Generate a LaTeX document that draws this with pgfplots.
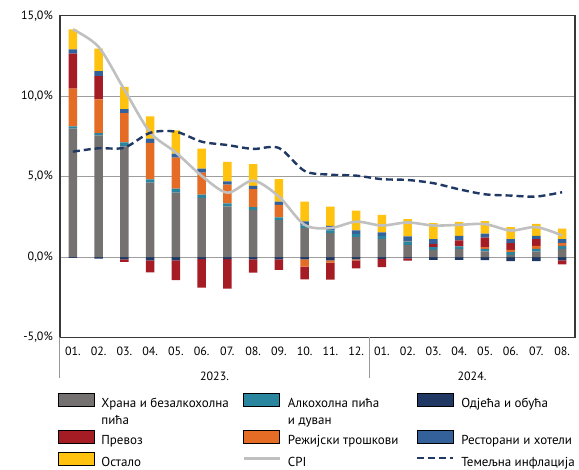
\documentclass[border=0pt]{standalone}
\usepackage{fontspec}
\setmainfont{PT Sans}
\usepackage{pgfplots}
\usepackage{pgfplotstable}
\pgfplotsset{compat=1.18}

\definecolor{food}{HTML}{767171}
\definecolor{alc}{HTML}{2A869E}
\definecolor{clo}{HTML}{1F3864}
\definecolor{trans}{HTML}{A51C24}
\definecolor{util}{HTML}{E46C24}
\definecolor{rest}{HTML}{35619A}
\definecolor{other}{HTML}{FFC20E}
\definecolor{cpi}{HTML}{C0C0C0}
\definecolor{core}{HTML}{1F3864}

% contributions to inflation (p.p.), CPI and core inflation (%)
\pgfplotstableread{
x  food alc  clo   util  trans rest other cpi   core
1  7.98 0.14 -0.05 2.35  2.17  0.26 1.25  14.15 6.55
2  7.56 0.14 -0.10 2.10  1.45  0.31 1.39  13.06 6.76
3  6.88 0.25 -0.15 1.82  -0.15 0.25 1.37  10.40 6.80
4  4.63 0.20 -0.20 2.26  -0.76 0.27 1.39  7.75  7.72
5  4.00 0.25 -0.20 1.93  -1.24 0.25 1.45  6.50  7.79
6  3.67 0.21 -0.13 1.37  -1.77 0.25 1.24  5.05  7.17
7  3.15 0.18 -0.13 1.17  -1.83 0.21 1.21  4.00  6.96
8  2.93 0.17 -0.15 1.12  -0.82 0.20 1.35  4.75  6.72
9  2.29 0.17 -0.15 0.78  -0.64 0.21 1.40  3.76  6.78
10 1.80 0.16 -0.15 -0.45 -0.79 0.25 1.24  2.00  5.35
11 1.49 0.16 -0.20 -0.15 -1.06 0.29 1.20  1.80  5.12
12 1.24 0.20 -0.15 -0.05 -0.50 0.21 1.24  2.20  5.06
13 1.12 0.20 -0.12 0     -0.50 0.21 1.09  1.96  4.84
14 0.76 0.21 -0.08 0.03  -0.15 0.28 1.08  2.15  4.79
15 0.45 0.17 -0.17 0     0.20  0.30 0.99  1.96  4.59
16 0.50 0.16 -0.17 0     0.37  0.29 0.87  2.00  4.21
17 0.35 0.15 -0.19 0.12  0.58  0.25 0.78  2.05  3.90
18 0.14 0.17 -0.25 0.14  0.42  0.25 0.74  1.65  3.82
19 0.33 0.17 -0.25 0.20  0.42  0.20 0.74  1.86  3.76
20 0.50 0.20 -0.20 0.17  -0.26 0.25 0.65  1.34  4.03
}\data

\pgfplotsset{
  barleg/.style={legend image code/.code={\fill[##1] (0pt,-2.5pt) rectangle (36pt,10.2pt);}},
  % first legend row holds two-line texts: reserve their depth
  barlegtall/.style={legend image code/.code={\fill[##1] (0pt,-2.5pt) rectangle (36pt,10.2pt); \path (0pt,-20pt);}},
  lineleg/.style={legend image code/.code={\draw[##1] (0pt,4pt) -- (36pt,4pt);}},
  frame/.style={
    at={(60pt,132.5pt)}, anchor=south west,
    width=515pt, height=321.8pt, scale only axis,
    xmin=0.5, xmax=20.5, ymin=-5, ymax=15,
  },
}

\begin{document}
\begin{tikzpicture}
\useasboundingbox (0,0) rectangle (579pt,470pt);
\begin{axis}[
    frame,
    ybar stacked, stack negative=separate, bar width=8.5pt,
    xtick={1,...,20},
    xticklabels={01.,02.,03.,04.,05.,06.,07.,08.,09.,10.,11.,12.,01.,02.,03.,04.,05.,06.,07.,08.},
    ytick={-5,0,5,10,15},
    yticklabel={\pgfmathprintnumber{\tick}\%},
    /pgf/number format/.cd, fixed, fixed zerofill, precision=1, use comma, assume math mode=true,
    /pgfplots/.cd,
    major tick length=0pt,
    ymajorgrids, grid style={draw=black!38, line width=0.9pt},
    axis line style={draw=black!78, line width=1.3pt},
    tick label style={font=\fontsize{12}{14}\selectfont},
    yticklabel style={inner sep=0pt, xshift=-7pt},
    xticklabel style={inner sep=0pt, yshift=-9pt},
    clip=false,
    legend columns=3,
    legend cell align=left,
    legend style={at={(0,0)}, anchor=north west, xshift=-2pt, yshift=-56pt,
      draw=none, fill=none, inner sep=0pt, outer sep=0pt,
      font=\fontsize{13}{17}\selectfont, row sep=6pt,
      nodes={inner sep=0pt},
      /tikz/every odd column/.append style={column sep=7pt},
      /tikz/every even column/.append style={column sep=6pt}},
]
\addplot[fill=food, draw=none, forget plot] table[x=x, y=food] {\data};
\addplot[fill=alc, draw=none, forget plot] table[x=x, y=alc] {\data};
\addplot[fill=clo, draw=none, forget plot] table[x=x, y=clo] {\data};
\addplot[fill=util, draw=none, forget plot] table[x=x, y=util] {\data};
\addplot[fill=trans, draw=none, forget plot] table[x=x, y=trans] {\data};
\addplot[fill=rest, draw=none, forget plot] table[x=x, y=rest] {\data};
\addplot[fill=other, draw=none, forget plot] table[x=x, y=other] {\data};

\addlegendimage{barlegtall, fill=food}
\addlegendentry{\parbox[t]{135pt}{Храна и безалкохолна\\пића}}
\addlegendimage{barlegtall, fill=alc}
\addlegendentry{\parbox[t]{122pt}{Алкохолна пића\\и дуван}}
\addlegendimage{barlegtall, fill=clo}
\addlegendentry{\parbox[t]{120pt}{Одјећа и обућа}}
\addlegendimage{barleg, fill=trans}
\addlegendentry{\parbox[t]{135pt}{Превоз}}
\addlegendimage{barleg, fill=util}
\addlegendentry{\parbox[t]{122pt}{Режијски трошкови}}
\addlegendimage{barleg, fill=rest}
\addlegendentry{\parbox[t]{120pt}{Ресторани и хотели}}
\addlegendimage{barleg, fill=other}
\addlegendentry{\parbox[t]{135pt}{Остало}}
\addlegendimage{lineleg, draw=cpi, line width=2.6pt}
\addlegendentry{\parbox[t]{122pt}{CPI}}
\addlegendimage{lineleg, draw=core, line width=2.4pt, dash pattern=on 7pt off 4pt}
\addlegendentry{\parbox[t]{120pt}{Темељна инфлација}}

\draw[black!40, line width=1pt] (axis cs:0.5,-5) -- ++(0pt,-41pt);
\draw[black!40, line width=1pt] (axis cs:12.5,-5) -- ++(0pt,-41pt);
\node[font=\fontsize{12}{14}\selectfont, anchor=base] at ([yshift=-42.7pt]axis cs:6.5,-5) {2023.};
\node[font=\fontsize{12}{14}\selectfont, anchor=base] at ([yshift=-42.7pt]axis cs:16.5,-5) {2024.};
\end{axis}

\begin{axis}[frame, hide axis]
\addplot[smooth, draw=cpi, line width=2.6pt] table[x=x, y=cpi] {\data};
\addplot[smooth, draw=core, line width=2.4pt, dash pattern=on 7pt off 4pt] table[x=x, y=core] {\data};
\end{axis}
\end{tikzpicture}
\end{document}
